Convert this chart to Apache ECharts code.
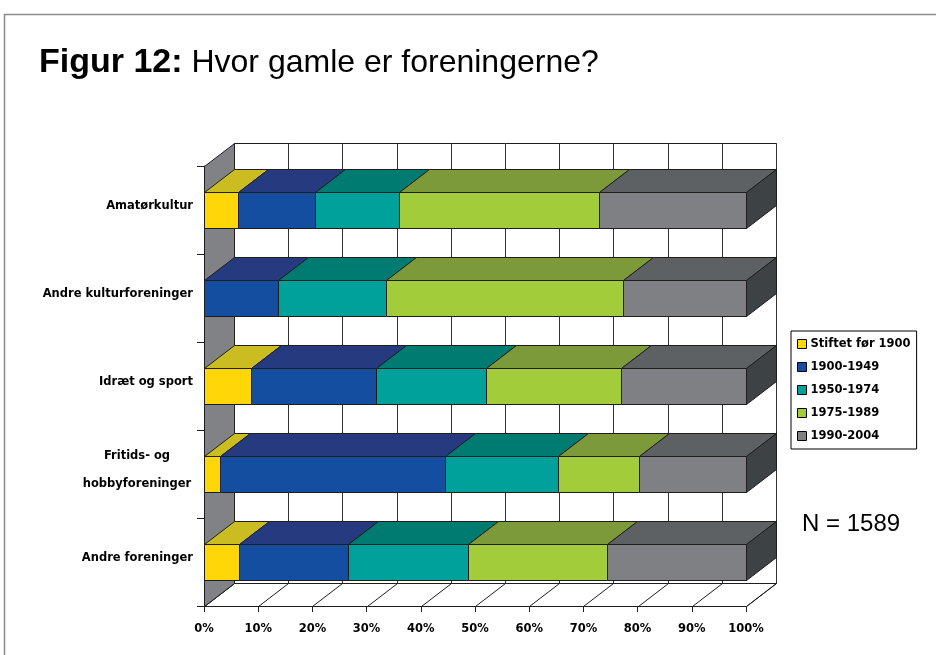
<!DOCTYPE html>
<html>
<head>
<meta charset="utf-8">
<script src="https://cdn.jsdelivr.net/npm/echarts@6/dist/echarts.min.js"></script>
<style>
html, body { margin: 0; padding: 0; background: #fff; }
#chart { width: 936px; height: 655px; }
</style>
</head>
<body>
<div id="chart"></div>
<script>
// data (percent of associations)
const categories = ['Amatørkultur', 'Andre kulturforeninger', 'Idræt og sport', 'Fritids- og\nhobbyforeninger', 'Andre foreninger'];
const periods = ['Stiftet før 1900', '1900-1949', '1950-1974', '1975-1989', '1990-2004'];
const before1900 = [6.2, 0, 8.6, 2.9, 6.4];
const from1900 = [14.3, 13.6, 23.2, 41.6, 20.2];
const from1950 = [15.5, 19.9, 20.3, 20.8, 22.1];
const from1975 = [36.8, 43.8, 24.9, 15.0, 25.6];
const from1990 = [27.2, 22.7, 23.0, 19.7, 25.7];
const xTicks = [0, 10, 20, 30, 40, 50, 60, 70, 80, 90, 100];

const periodValues = [before1900, from1900, from1950, from1975, from1990];
const frontColors = ['#ffd708', '#144ea1', '#00a19b', '#a3cc3a', '#7e8083'];
const topColors = ['#cbbc22', '#263a80', '#007b72', '#7c9a3a', '#5d6163'];
const sideColor = '#3d4245';
const edge = '#1e1e1e';
const labelFont = '"DejaVu Sans", sans-serif';
const titleFont = '"Liberation Sans", Arial, sans-serif';

// 3d depth offset in pixels
const DX = 30, DY = -23;

const px = v => Math.round(v) + 0.5;

function renderScene(params, api) {
    const cs = params.coordSys;
    const x0 = cs.x, y0 = cs.y, x1 = cs.x + cs.width, y1 = cs.y + cs.height;
    const children = [];
    // back wall
    children.push({
        type: 'rect',
        shape: { x: px(x0 + DX), y: px(y0 + DY), width: Math.round(cs.width), height: Math.round(cs.height) },
        style: { fill: '#fff', stroke: edge, lineWidth: 1 }
    });
    xTicks.forEach(v => {
        const x = px(api.coord([v, 0])[0] + DX);
        children.push({
            type: 'line',
            shape: { x1: x, y1: px(y0 + DY), x2: x, y2: px(y1 + DY) },
            style: { stroke: '#333', lineWidth: 1 }
        });
    });
    // floor
    children.push({
        type: 'polygon',
        shape: { points: [[px(x0), px(y1)], [px(x0 + DX), px(y1 + DY)], [px(x1 + DX), px(y1 + DY)], [px(x1), px(y1)]] },
        style: { fill: '#fff', stroke: edge, lineWidth: 1 }
    });
    xTicks.forEach(v => {
        const x = api.coord([v, 0])[0];
        children.push({
            type: 'line',
            shape: { x1: px(x), y1: px(y1), x2: px(x + DX), y2: px(y1 + DY) },
            style: { stroke: edge, lineWidth: 1 }
        });
    });
    // left wall
    children.push({
        type: 'polygon',
        shape: { points: [[px(x0), px(y0)], [px(x0 + DX), px(y0 + DY)], [px(x0 + DX), px(y1 + DY)], [px(x0), px(y1)]] },
        style: { fill: '#808285', stroke: edge, lineWidth: 1 }
    });
    return { type: 'group', children: children };
}

function makeBarRenderer(k, isLast) {
    return function (params, api) {
        const start = api.value(0), end = api.value(1), cat = api.value(2);
        if (end - start <= 0) return;
        const a = api.coord([start, cat]);
        const b = api.coord([end, cat]);
        const h = api.size([0, 1])[1] * 0.4;
        const xa = px(a[0]), xb = px(b[0]);
        const yt = px(a[1] - h / 2), yb = px(a[1] + h / 2);
        const children = [
            {
                type: 'polygon',
                shape: { points: [[xa, yt], [xa + DX, yt + DY], [xb + DX, yt + DY], [xb, yt]] },
                style: { fill: topColors[k], stroke: edge, lineWidth: 1 }
            },
            {
                type: 'rect',
                shape: { x: xa, y: yt, width: xb - xa, height: yb - yt },
                style: { fill: frontColors[k], stroke: edge, lineWidth: 1 }
            }
        ];
        if (isLast) {
            children.push({
                type: 'polygon',
                shape: { points: [[xb, yt], [xb + DX, yt + DY], [xb + DX, yb + DY], [xb, yb]] },
                style: { fill: sideColor, stroke: edge, lineWidth: 1 }
            });
        }
        return { type: 'group', children: children };
    };
}

const barSeries = periodValues.map((vals, k) => ({
    type: 'custom',
    name: periods[k],
    renderItem: makeBarRenderer(k, k === periodValues.length - 1),
    encode: { x: [0, 1], y: 2 },
    clip: false,
    z: 3,
    itemStyle: { color: frontColors[k] },
    data: vals.map((v, j) => {
        let s = 0;
        for (let i = 0; i < k; i++) s += periodValues[i][j];
        return [s, s + v, j];
    })
}));

const labelText = { fontFamily: labelFont, fontWeight: 'bold', fontSize: 11.5, color: '#000', lineHeight: 28, padding: [0, 0, 8, 0] };

const myChart = echarts.init(document.getElementById('chart'));
const option = {
    backgroundColor: '#fff',
    animation: false,
    title: {
        text: '{b|Figur 12:} Hvor gamle er foreningerne?',
        left: 34,
        top: 41,
        textStyle: {
            fontFamily: titleFont,
            fontSize: 32,
            fontWeight: 'normal',
            color: '#000',
            rich: {
                b: { fontFamily: titleFont, fontSize: 34, fontWeight: 'bold', color: '#000' }
            }
        }
    },
    legend: {
        data: periods,
        orient: 'vertical',
        left: 791,
        top: 331,
        padding: [7, 6, 7, 6],
        itemGap: 11,
        itemWidth: 9,
        itemHeight: 9,
        icon: 'rect',
        borderColor: '#000',
        borderWidth: 1,
        backgroundColor: '#fff',
        itemStyle: { borderColor: '#000', borderWidth: 1 },
        textStyle: { fontFamily: labelFont, fontWeight: 'bold', fontSize: 11.5, color: '#000', padding: [0, 0, 0, -1] }
    },
    grid: { left: 204, top: 166, width: 542, height: 440 },
    xAxis: {
        type: 'value',
        min: 0,
        max: 100,
        interval: 10,
        axisLine: { show: true, lineStyle: { color: edge } },
        axisTick: { show: true, length: 6, lineStyle: { color: edge } },
        splitLine: { show: false },
        axisLabel: {
            formatter: '{value}%',
            margin: 17,
            fontFamily: labelFont,
            fontWeight: 'bold',
            fontSize: 11.5,
            color: '#000'
        }
    },
    yAxis: {
        type: 'category',
        inverse: true,
        data: categories,
        axisLine: { show: true, lineStyle: { color: edge } },
        axisTick: { show: true, length: 7, lineStyle: { color: edge } },
        splitLine: { show: false },
        axisLabel: {
            margin: 11,
            formatter: value => {
                const lines = value.split('\n');
                const tag = lines.length > 1 ? 'c' : 'a';
                return lines.map(line => '{' + tag + '|' + line + '}').join('\n');
            },
            rich: {
                a: labelText,
                c: Object.assign({}, labelText, { width: 112, align: 'center' })
            }
        }
    },
    graphic: [
        {
            type: 'rect',
            shape: { x: 4.5, y: 14.5, width: 1000, height: 1000 },
            style: { fill: null, stroke: '#8a8a8a', lineWidth: 1.5 },
            silent: true
        },
        {
            type: 'text',
            left: 802,
            top: 512,
            style: { text: 'N = 1589', fontFamily: titleFont, fontSize: 24, fill: '#000' }
        }
    ],
    series: [
        {
            type: 'custom',
            renderItem: renderScene,
            encode: { x: 0, y: 1 },
            clip: false,
            silent: true,
            z: 1,
            data: [[0, 0]]
        }
    ].concat(barSeries)
};

myChart && myChart.setOption(option);
</script>
</body>
</html>
